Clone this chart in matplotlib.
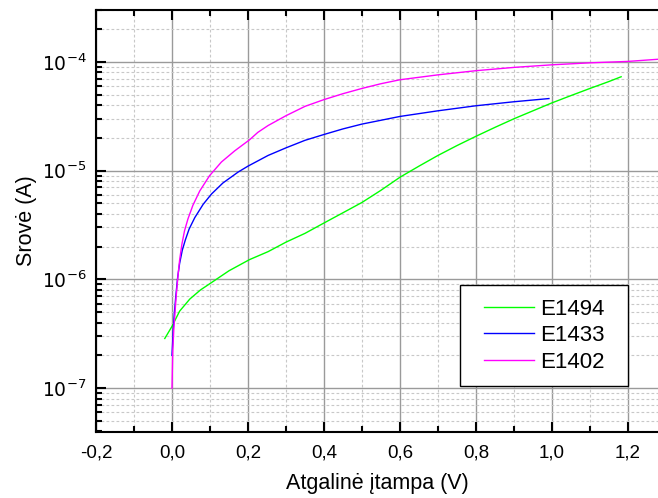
import matplotlib
matplotlib.use('Agg')
import matplotlib.pyplot as plt
from matplotlib.ticker import MultipleLocator, LogLocator, FuncFormatter, NullFormatter
from matplotlib.patches import Rectangle
import numpy as np

plt.rcParams['font.family'] = ['Liberation Sans', 'DejaVu Sans']

# E1494
x_e1494 = [-0.019, 0.0, 0.02, 0.047, 0.075, 0.103, 0.15, 0.204, 0.253, 0.3, 0.35, 0.4, 0.45, 0.5,
           0.55, 0.6, 0.65, 0.7, 0.75, 0.8, 0.85, 0.9, 0.95, 1.0, 1.05, 1.1, 1.15, 1.182]
y_e1494 = [2.86e-7, 3.7e-7, 5.1e-7, 6.6e-7, 8.0e-7, 9.3e-7, 1.2e-6, 1.52e-6, 1.8e-6, 2.2e-6, 2.65e-6,
           3.3e-6, 4.1e-6, 5.1e-6, 6.6e-6, 8.7e-6, 1.1e-5, 1.38e-5, 1.7e-5, 2.07e-5, 2.5e-5, 3.0e-5,
           3.55e-5, 4.2e-5, 4.9e-5, 5.7e-5, 6.6e-5, 7.3e-5]
# E1433
x_e1433 = [0.0, 0.003, 0.006, 0.010, 0.015, 0.020, 0.027, 0.035, 0.045, 0.060, 0.082, 0.104, 0.134,
           0.174, 0.2, 0.253, 0.3, 0.35, 0.4, 0.45, 0.5, 0.6, 0.7, 0.8, 0.9, 0.992]
y_e1433 = [2e-7, 3.3e-7, 4.8e-7, 7e-7, 1.05e-6, 1.4e-6, 1.85e-6, 2.3e-6, 2.9e-6, 3.7e-6, 4.9e-6, 6.1e-6,
           7.7e-6, 9.7e-6, 1.1e-5, 1.38e-5, 1.62e-5, 1.9e-5, 2.15e-5, 2.42e-5, 2.68e-5, 3.15e-5, 3.55e-5,
           3.95e-5, 4.3e-5, 4.6e-5]
# E1402
x_e1402 = [0.0, 0.002, 0.005, 0.008, 0.011, 0.016, 0.020, 0.026, 0.033, 0.042, 0.055, 0.073, 0.099,
           0.130, 0.165, 0.204, 0.226, 0.253, 0.3, 0.35, 0.4, 0.45, 0.5, 0.55, 0.6, 0.7, 0.8, 0.9, 1.0,
           1.1, 1.2, 1.3]
y_e1402 = [1e-7, 2.2e-7, 3.6e-7, 5.0e-7, 7e-7, 1.1e-6, 1.5e-6, 2.1e-6, 2.8e-6, 3.6e-6, 4.8e-6, 6.5e-6,
           9.0e-6, 1.2e-5, 1.52e-5, 1.92e-5, 2.25e-5, 2.6e-5, 3.2e-5, 3.9e-5, 4.5e-5, 5.1e-5, 5.7e-5,
           6.3e-5, 6.85e-5, 7.6e-5, 8.3e-5, 8.9e-5, 9.4e-5, 9.8e-5, 1.01e-4, 1.07e-4]

fig = plt.figure(figsize=(6.58, 4.98), dpi=100)
ax = fig.add_axes([96/658, 1-432/498, 1-96/658, 422/498])

ax.plot(x_e1494, y_e1494, color='#00ff00', lw=1.0, label='E1494')
ax.plot(x_e1433, y_e1433, color='#0000ff', lw=1.0, label='E1433')
ax.plot(x_e1402, y_e1402, color='#ff00ff', lw=1.0, label='E1402')

ax.set_yscale('log')
ax.set_xlim(-0.2, 1.279)
ax.set_ylim(3.95e-8, 3.0e-4)

ax.xaxis.set_major_locator(MultipleLocator(0.2))
ax.xaxis.set_minor_locator(MultipleLocator(0.1))
ax.xaxis.set_major_formatter(FuncFormatter(lambda v, p: ('%.1f' % v).replace('.', ',').replace('-0,0', '0,0')))
ax.yaxis.set_major_locator(LogLocator(base=10, numticks=20))
ax.yaxis.set_minor_locator(LogLocator(base=10, subs=np.arange(2, 10), numticks=20))
ax.yaxis.set_minor_formatter(NullFormatter())
ax.yaxis.set_major_formatter(FuncFormatter(lambda v, p: r'$10^{%d}$' % round(np.log10(v))))

ax.grid(True, which='major', color='#9a9a9a', lw=1.0, ls='-')
ax.grid(True, which='minor', color='#c8c8c8', lw=0.8, ls=(0, (2.5, 2)))
ax.set_axisbelow(True)

ax.tick_params(which='both', direction='in', top=True, right=False, labelsize=13.5, width=1.5)
ax.tick_params(which='major', length=7, pad=7)
ax.tick_params(axis='x', which='major', pad=9)
ax.tick_params(which='minor', length=4)
for s in ['left', 'bottom', 'top']:
    ax.spines[s].set_linewidth(1.5)
ax.spines['right'].set_visible(False)

ax.set_xlabel('Atgalinė įtampa (V)', fontsize=15.5, labelpad=8)
ax.set_ylabel('Srovė (A)', fontsize=15.5, labelpad=3)

# legend box
box = Rectangle((0.648, 0.109), 0.299, 0.239, transform=ax.transAxes, facecolor='white',
                edgecolor='black', lw=1.0, zorder=4)
ax.add_patch(box)
leg = ax.legend(loc='center', bbox_to_anchor=(0.648 + 0.299/2, 0.109 + 0.239/2), fontsize=16,
                frameon=False, handlelength=2.25, labelspacing=0.25, handletextpad=0.3)
leg.set_zorder(5)

fig.savefig('out.png', dpi=100)
